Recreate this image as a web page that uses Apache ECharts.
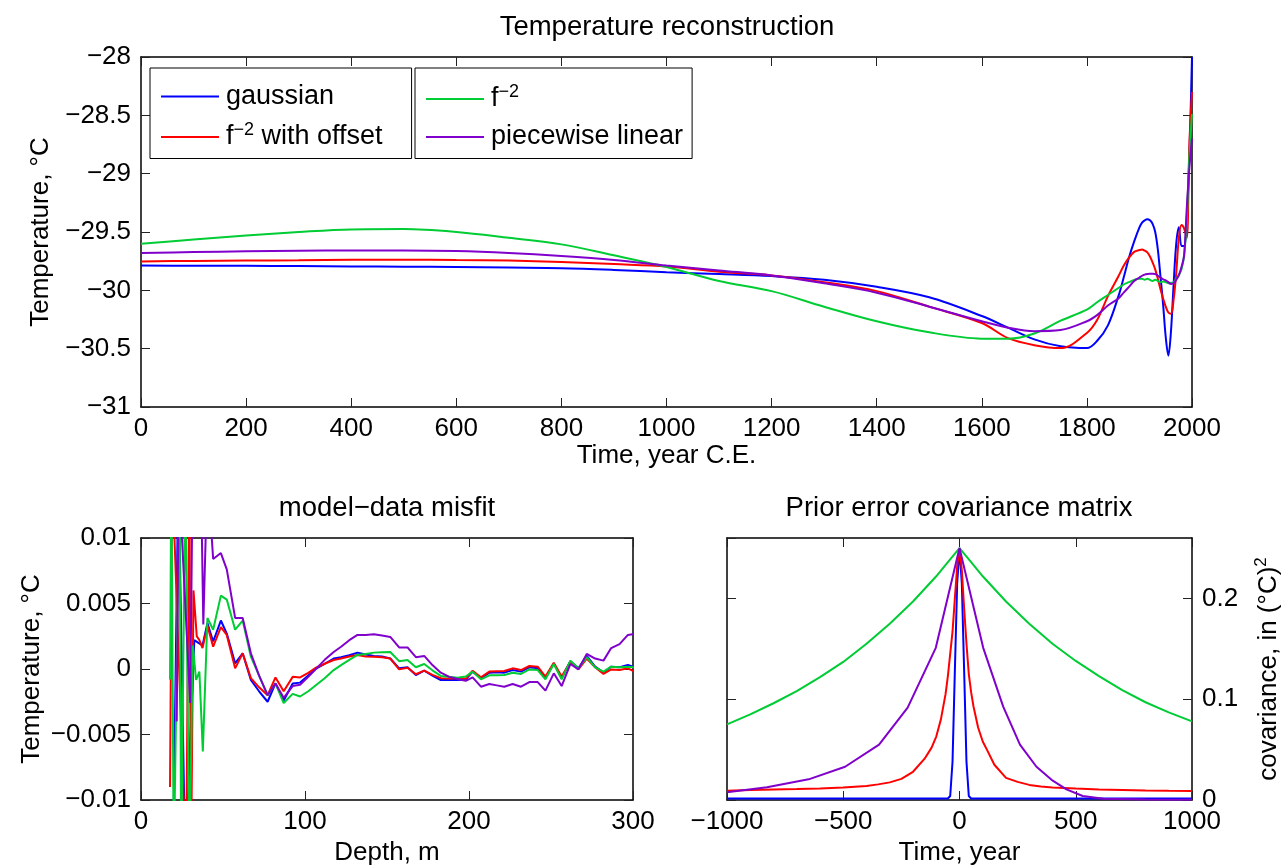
<!DOCTYPE html>
<html>
<head>
<meta charset="utf-8">
<script src="https://cdn.jsdelivr.net/npm/echarts@6/dist/echarts.min.js"></script>
<style>
  html, body { margin: 0; padding: 0; background: #fff; }
  #chart { width: 1284px; height: 867px; }
</style>
</head>
<body>
<div id="chart"></div>
<script>
// ---- top panel: temperature reconstruction (deg C) ----
var years = [0, 100, 200, 300, 400, 500, 600, 700, 800, 900, 1000, 1100, 1200, 1300, 1400, 1500,
  1600, 1650, 1700, 1750, 1800, 1820, 1840, 1860, 1870, 1880, 1890, 1900, 1905, 1910, 1915,
  1920, 1925, 1930, 1935, 1940, 1945, 1950, 1955, 1960, 1965, 1970, 1975, 1980, 1985, 1990, 1995, 2000];
var tempGaussian = [-29.787, -29.789, -29.79, -29.792, -29.795, -29.797, -29.8, -29.805, -29.81, -29.825,
  -29.845, -29.86, -29.878, -29.91, -29.97, -30.06, -30.22, -30.32, -30.42, -30.48, -30.495, -30.43,
  -30.3, -30.05, -29.89, -29.72, -29.58, -29.46, -29.42, -29.4, -29.39, -29.4, -29.43, -29.5, -29.65,
  -29.88, -30.12, -30.4, -30.56, -30.35, -29.95, -29.6, -29.46, -29.62, -29.62, -29.4, -28.85, -28.0];
var tempOffset = [-29.752, -29.748, -29.745, -29.742, -29.738, -29.737, -29.74, -29.745, -29.758, -29.775,
  -29.795, -29.84, -29.872, -29.93, -30.007, -30.14, -30.28, -30.41, -30.47, -30.495, -30.365, -30.25,
  -30.05, -29.88, -29.79, -29.72, -29.67, -29.655, -29.65, -29.66, -29.675, -29.71, -29.76, -29.82,
  -29.9, -29.99, -30.07, -30.14, -30.19, -30.2, -30.08, -29.85, -29.55, -29.44, -29.47, -29.55, -28.75, -28.3];
var tempF2 = [-29.6, -29.565, -29.53, -29.5, -29.478, -29.475, -29.5, -29.55, -29.606, -29.7,
  -29.8, -29.92, -30.007, -30.14, -30.265, -30.36, -30.414, -30.415, -30.37, -30.26, -30.165, -30.1,
  -30.04, -29.98, -29.95, -29.93, -29.91, -29.9, -29.9, -29.91, -29.9, -29.91, -29.92, -29.91, -29.92,
  -29.93, -29.925, -29.93, -29.94, -29.935, -29.93, -29.9, -29.87, -29.82, -29.7, -29.4, -28.85, -28.49];
var tempPiecewise = [-29.68, -29.672, -29.665, -29.66, -29.658, -29.658, -29.663, -29.68, -29.706, -29.74,
  -29.787, -29.83, -29.872, -29.94, -30.02, -30.14, -30.265, -30.32, -30.35, -30.34, -30.265, -30.21,
  -30.13, -30.07, -30.02, -29.97, -29.92, -29.89, -29.875, -29.865, -29.86, -29.858, -29.858, -29.86,
  -29.875, -29.89, -29.905, -29.915, -29.93, -29.945, -29.94, -29.91, -29.87, -29.8, -29.7, -29.3, -28.95, -28.7];

// ---- bottom left: model-data misfit, in 1e-3 deg C ----
var misfitDepth = [40.5, 44, 48.7, 52.3, 57.4, 62, 67, 72, 77.2, 82, 87, 92.5, 97, 102, 107, 112, 117.5,
  122, 127, 132, 137, 142, 147, 152, 157.4, 162.5, 167.6, 172.7, 177.7, 182.8, 188, 193, 198, 202.2,
  207.3, 212.4, 217, 221.5, 226.6, 231.7, 236.8, 241.9, 246.6, 251.7, 256.5, 261.8, 266.7, 271.8,
  276.9, 282, 286.7, 291.8, 296.9, 301];
var misfitGaussian = [3.5, 2.1, 3.7, 2.7, 0.43, 1.2, -0.84, -1.7, -2.5, -1.1, -2.4, -1.1, -1.04, -0.5, 0.05,
  0.4, 0.8, 0.9, 1.05, 1.25, 1.1, 1.0, 0.95, 0.8, 0.05, 0.13, -0.46, -0.13, -0.5, -0.84, -0.84, -0.84,
  -0.8, -0.2, -0.7, -0.28, -0.25, -0.28, -0.08, -0.2, 0.13, 0.05, -0.7, 0.43, -0.7, 0.6, 0.05, 1.0,
  0.18, -0.28, 0.18, 0.13, 0.3, 0.13];
var misfitOffset = [3.3, 1.7, 3.2, 2.6, 0.05, 1.2, -0.7, -1.4, -2.0, -0.64, -1.7, -0.6, -0.64, -0.3, 0.13,
  0.4, 0.69, 0.8, 0.95, 1.07, 0.95, 0.94, 0.9, 0.8, -0.03, 0.1, -0.4, -0.13, -0.45, -0.7, -0.72, -0.72,
  -0.75, -0.13, -0.64, -0.2, -0.17, -0.15, 0.05, -0.08, 0.23, 0.18, -0.58, 0.48, -0.58, 0.56, -0.03,
  0.8, 0.13, -0.38, -0.03, -0.08, 0.05, -0.2];
var misfitF2 = [3.9, 3.0, 5.6, 5.3, 3.0, 3.7, 0.94, -0.5, -2.0, -1.1, -2.6, -1.9, -2.1, -1.7, -1.2, -0.7,
  -0.08, 0.3, 0.7, 1.07, 1.15, 1.25, 1.28, 1.3, 0.6, 0.69, 0.13, 0.38, -0.1, -0.53, -0.6, -0.66, -0.58,
  -0.2, -0.79, -0.48, -0.47, -0.46, -0.28, -0.38, -0.03, -0.08, -0.79, 0.38, -0.79, 0.64, 0.05, 0.9,
  0.13, -0.2, 0.18, 0.13, 0.18, 0.13];
var misfitPiecewise = [15, 8.4, 8.85, 7.6, 3.9, 3.9, 1.2, -0.5, -2.0, -1.1, -2.2, -1.3, -1.2, -0.6, 0.05,
  0.7, 1.3, 1.7, 2.2, 2.6, 2.6, 2.65, 2.55, 2.45, 1.65, 1.65, 0.9, 1.0, 0.3, -0.28, -0.6, -0.76, -0.9,
  -0.64, -1.35, -1.15, -1.25, -1.35, -1.15, -1.35, -1.0, -1.0, -1.65, -0.33, -1.3, 0.38, -0.03, 1.15,
  0.8, 0.64, 1.6, 1.9, 2.6, 2.67];
// shallow, noisy part (depth, misfit) before the regular grid
var earlyGaussian = [[19.5, -15], [22.8, 15], [27, -15], [32.5, 2.2], [35, 2.0], [37.5, 1.8]];
var earlyOffset = [[17.7, -9.0], [19, 15], [27.5, -15], [29.5, 15], [30.5, -15], [32, 6.0], [34, 2.5], [35.6, 2.2], [37.5, 1.6]];
var earlyF2 = [[17.7, -0.8], [18.5, 15], [20, -15], [23.5, 15], [24.5, -15], [27, 15], [29.5, -15],
  [31.6, 1.8], [33.6, -0.84], [35.6, -0.2], [37.7, -6.3]];
var earlyPiecewise = [[21.8, -4.0], [23, 15], [30, -2.6], [31.5, 15], [36.5, 15], [38, 3.4]];

// ---- bottom right: prior error covariance ----
var lagFine = [-1000, -900, -800, -700, -600, -500, -400, -350, -300, -250, -200, -150, -120, -100, -80, -60,
  -50, -40, -30, -20, -10, 0, 10, 20, 30, 40, 50, 60, 80, 100, 120, 150, 200, 250, 300, 350, 400, 500,
  600, 700, 800, 900, 1000];
var covGaussian = [0.0015, 0.0015, 0.0015, 0.0015, 0.0015, 0.0015, 0.0015, 0.0015, 0.0015, 0.0015, 0.0015,
  0.0015, 0.0015, 0.0015, 0.0015, 0.0015, 0.0015, 0.004, 0.038, 0.128, 0.215, 0.25, 0.215, 0.128, 0.038,
  0.004, 0.0015, 0.0015, 0.0015, 0.0015, 0.0015, 0.0015, 0.0015, 0.0015, 0.0015, 0.0015, 0.0015, 0.0015,
  0.0015, 0.0015, 0.0015, 0.0015, 0.0015];
var covOffset = [0.0093, 0.0098, 0.0103, 0.0108, 0.0115, 0.0124, 0.014, 0.0155, 0.0175, 0.021, 0.028, 0.041,
  0.052, 0.063, 0.08, 0.105, 0.123, 0.145, 0.167, 0.2, 0.232, 0.25, 0.228, 0.19, 0.155, 0.125, 0.107,
  0.093, 0.072, 0.058, 0.049, 0.035, 0.022, 0.018, 0.015, 0.0135, 0.0125, 0.0113, 0.0105, 0.01, 0.0095,
  0.0092, 0.009];
var lagCoarse = [-1000, -900, -800, -700, -600, -500, -400, -300, -200, -100, -50, 0, 50, 100, 200, 300, 400, 500, 600, 700, 800, 900, 1000];
var covF2 = [0.075, 0.085, 0.096, 0.108, 0.122, 0.137, 0.155, 0.175, 0.197, 0.222, 0.236, 0.25, 0.236, 0.222,
  0.197, 0.175, 0.155, 0.138, 0.123, 0.109, 0.097, 0.087, 0.078];
var lagPiecewise = [-1000, -828, -649, -492, -346, -223, -102, 0, 102, 188, 260, 331, 396, 460, 530, 620, 800, 1000];
var covPiecewise = [0.0076, 0.0126, 0.0205, 0.033, 0.055, 0.0916, 0.151, 0.25, 0.151, 0.0926, 0.055, 0.033,
  0.02, 0.0106, 0.004, 0.0012, 0.0005, 0.0003];

var names = ['gaussian', 'f^-2 with offset', 'f^-2', 'piecewise linear'];
var colors = ['#0000ff', '#ff0000', '#00cc33', '#8000cc'];
var FONT = 'Liberation Sans, Arial, Helvetica, sans-serif';
var FS = 26;

function zip(xs, ys) {
  return xs.map(function (x, i) { return [x, ys[i]]; });
}
function minus(v) {
  return String(v).replace('-', '\u2212');
}

var tickStyle = { inside: true, length: 9, lineStyle: { color: '#222', width: 1 } };
var lineStyle = { show: true, onZero: false, lineStyle: { color: '#000', width: 1.5 } };
var labelStyle = { color: '#000', fontSize: FS, fontFamily: FONT };
var nameStyle = { color: '#000', fontSize: FS, fontFamily: FONT };

function xPair(grid, min, max, interval, name, gap, fmt) {
  var base = {
    type: 'value', gridIndex: grid, min: min, max: max, interval: interval,
    axisLine: lineStyle, axisTick: tickStyle, splitLine: { show: false }
  };
  var bottom = Object.assign({}, base, {
    position: 'bottom', name: name, nameLocation: 'middle', nameGap: gap, nameTextStyle: nameStyle,
    axisLabel: Object.assign({ margin: 9, formatter: fmt || minus }, labelStyle)
  });
  var top = Object.assign({}, base, { position: 'top', axisLabel: { show: false } });
  return [bottom, top];
}
function yPair(grid, min, max, interval, opts) {
  var base = {
    type: 'value', gridIndex: grid, min: min, max: max, interval: interval,
    axisLine: lineStyle, axisTick: tickStyle, splitLine: { show: false }
  };
  var left = Object.assign({}, base, { position: 'left', axisLabel: { show: false } });
  var right = Object.assign({}, base, { position: 'right', axisLabel: { show: false } });
  var labelled = opts.side === 'right' ? right : left;
  labelled.axisLabel = Object.assign({ margin: 10, formatter: opts.fmt || minus, showMaxLabel: opts.showMax !== false }, labelStyle);
  labelled.name = opts.name;
  labelled.nameLocation = 'middle';
  labelled.nameGap = opts.gap;
  labelled.nameTextStyle = Object.assign({}, nameStyle, opts.rich ? { rich: opts.rich } : {});
  return [left, right];
}

var LFS = 27;
var supRich = {
  n: { fontSize: LFS, fontFamily: FONT, color: '#000' },
  s: { fontSize: 18, fontFamily: FONT, color: '#000', padding: [0, 0, 14, 0] }
};
function legendFmt(name) {
  if (name.indexOf('f^-2') === 0) {
    var rest = name.slice(4);
    return '{n|f}{s|\u22122}' + (rest ? '{n|' + rest + '}' : '');
  }
  return '{n|' + name + '}';
}
function legendBox(left, data, padRight) {
  return {
    data: data, left: left, top: 68, orient: 'vertical',
    borderColor: '#000', borderWidth: 1, backgroundColor: '#fff',
    padding: [15, padRight, 8, 11], itemGap: 11, itemWidth: 58, itemHeight: 2, icon: 'rect',
    formatter: legendFmt, selectedMode: false,
    textStyle: { fontSize: LFS, fontFamily: FONT, color: '#000', padding: [0, 0, 0, 2], rich: supRich }
  };
}

var topSeries = [tempGaussian, tempOffset, tempF2, tempPiecewise];
var misfitSeries = [misfitGaussian, misfitOffset, misfitF2, misfitPiecewise];
var earlySeries = [earlyGaussian, earlyOffset, earlyF2, earlyPiecewise];
var covSeries = [zip(lagFine, covGaussian), zip(lagFine, covOffset), zip(lagCoarse, covF2), zip(lagPiecewise, covPiecewise)];

var series = [];
function addLine(i, xi, yi, data, smooth) {
  series.push({
    name: names[i], type: 'line', xAxisIndex: xi, yAxisIndex: yi, data: data,
    showSymbol: false, symbol: 'none', clip: true, animation: false, smooth: smooth || false,
    lineStyle: { color: colors[i], width: 2 }, itemStyle: { color: colors[i] }
  });
}
for (var i = 0; i < 4; i++) addLine(i, 0, 0, zip(years, topSeries[i]), 0.35);
for (var i = 0; i < 4; i++) addLine(i, 2, 2, earlySeries[i].concat(zip(misfitDepth, misfitSeries[i])));
for (var i = 0; i < 4; i++) addLine(i, 4, 4, covSeries[i]);

var option = {
  backgroundColor: '#fff',
  animation: false,
  textStyle: { fontFamily: FONT },
  grid: [
    { left: 141, top: 57, width: 1051, height: 350 },
    { left: 141, top: 538, width: 492, height: 262 },
    { left: 727, top: 538, width: 465, height: 262 }
  ],
  xAxis: []
    .concat(xPair(0, 0, 2000, 200, 'Time, year C.E.', 34))
    .concat(xPair(1, 0, 300, 100, 'Depth, m', 40))
    .concat(xPair(2, -1000, 1000, 500, 'Time, year', 40)),
  yAxis: []
    .concat(yPair(0, -31, -28, 0.5, { side: 'left', name: 'Temperature, \u00b0C', gap: 80 }))
    .concat(yPair(1, -10, 10, 5, {
      side: 'left', name: 'Temperature, \u00b0C', gap: 96,
      fmt: function (v) { return minus(v / 1000); }
    }))
    .concat(yPair(2, 0, 0.26, 0.1, {
      side: 'right', name: 'covariance, in (\u00b0C){s|2}', gap: 61, showMax: false,
      rich: { s: { fontSize: 17, fontFamily: FONT, color: '#000', padding: [0, 0, 14, 0] } }
    })),
  legend: [
    legendBox(150, ['gaussian', 'f^-2 with offset'], 29),
    legendBox(415, ['f^-2', 'piecewise linear'], 9)
  ],
  graphic: [
    { type: 'text', x: 667, y: 27, style: { text: 'Temperature reconstruction', fontSize: 27.5, fontFamily: FONT, fill: '#000', align: 'center', verticalAlign: 'middle' } },
    { type: 'text', x: 387, y: 508, style: { text: 'model\u2212data misfit', fontSize: 27.5, fontFamily: FONT, fill: '#000', align: 'center', verticalAlign: 'middle' } },
    { type: 'text', x: 959, y: 508, style: { text: 'Prior error covariance matrix', fontSize: 27.5, fontFamily: FONT, fill: '#000', align: 'center', verticalAlign: 'middle' } }
  ],
  series: series
};

var chart = echarts.init(document.getElementById('chart'), null, { renderer: 'canvas' });
chart.setOption(option);
</script>
</body>
</html>
